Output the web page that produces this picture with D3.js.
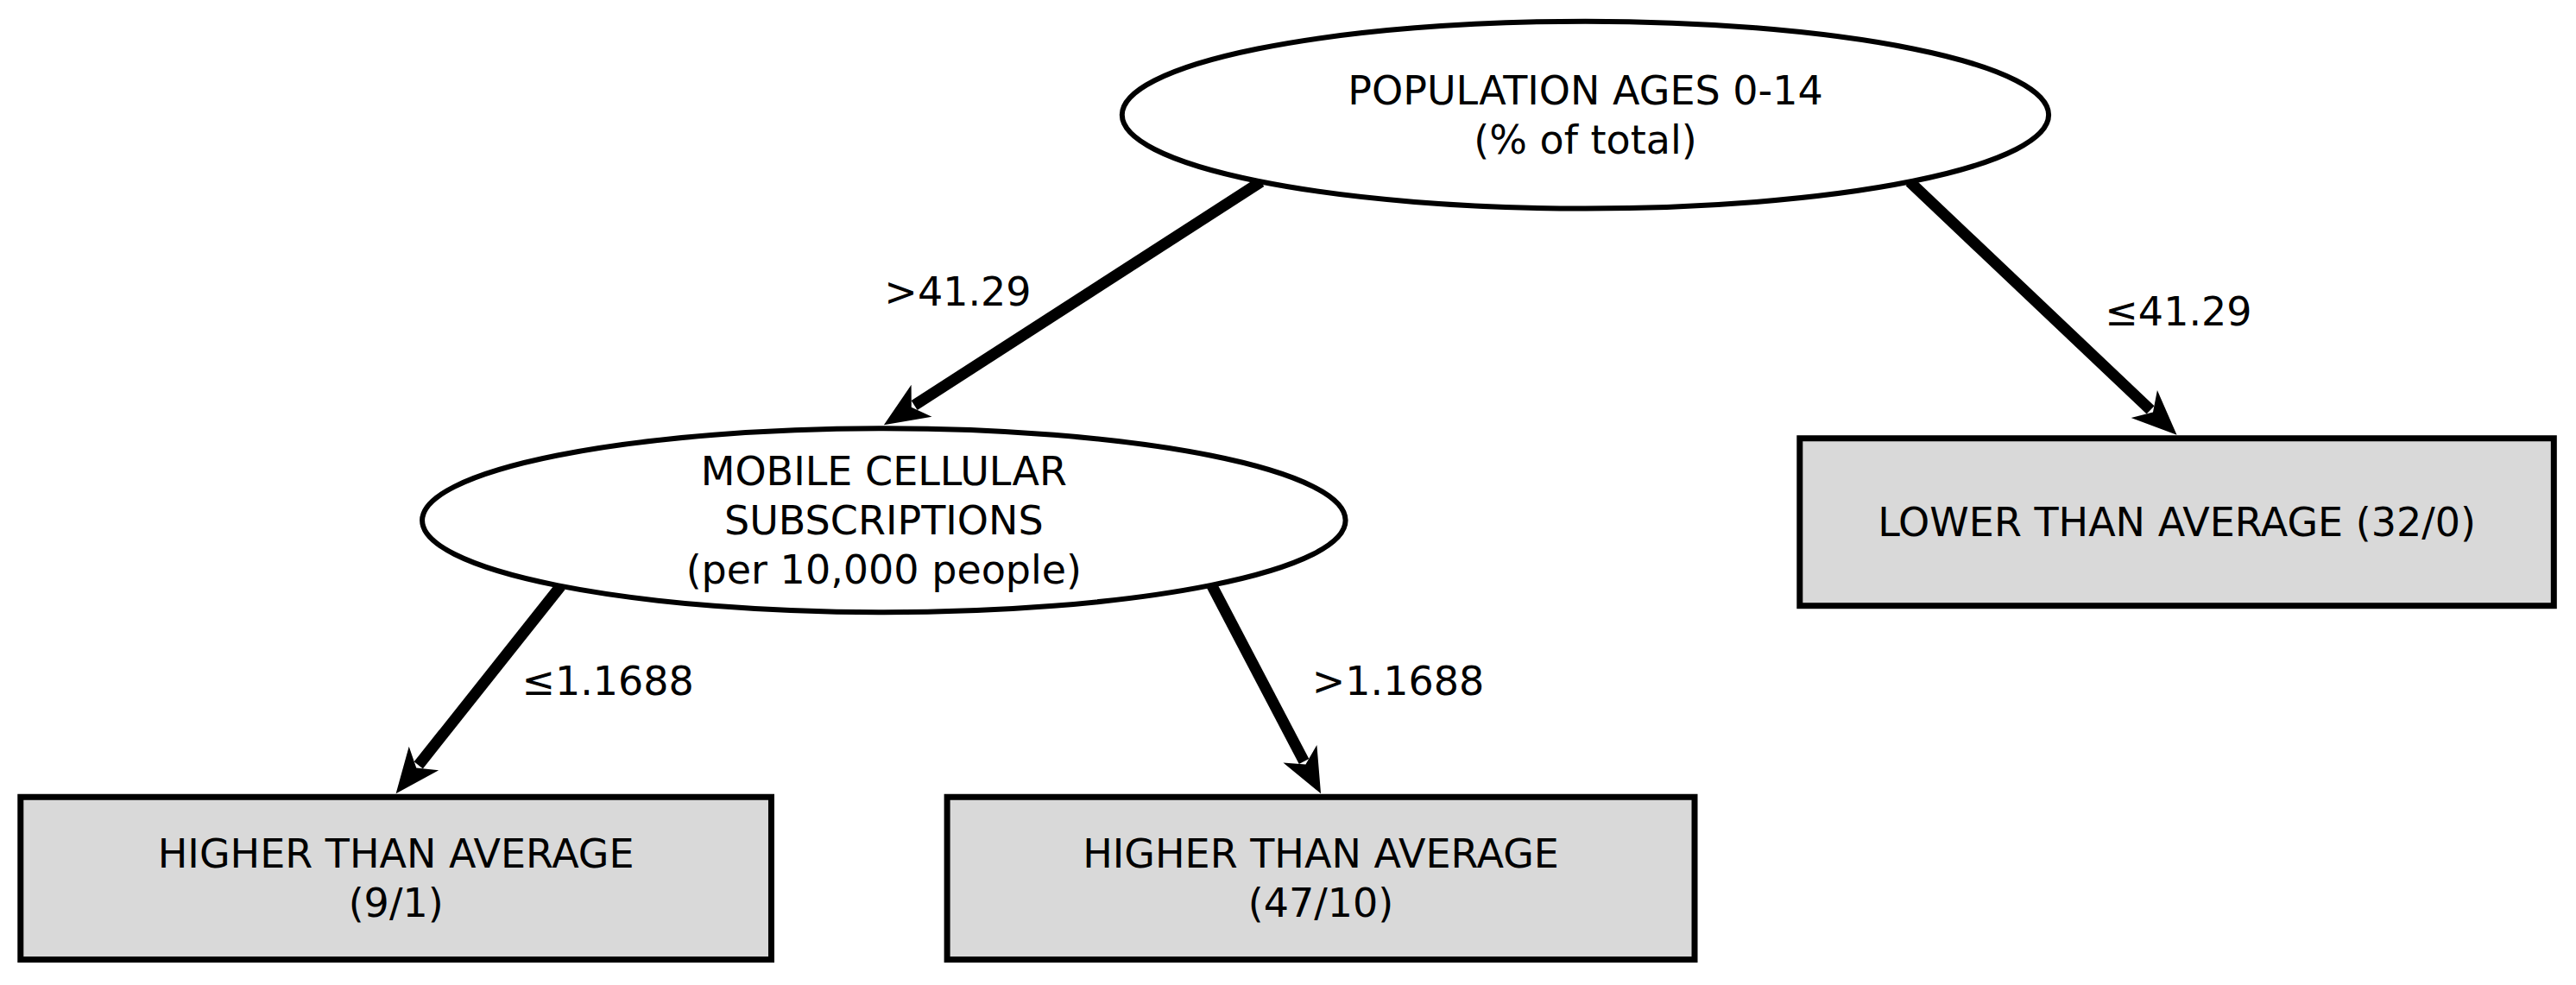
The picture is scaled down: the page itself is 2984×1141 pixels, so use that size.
<!DOCTYPE html>
<html>
<head>
<meta charset="utf-8">
<script src="https://cdn.jsdelivr.net/npm/d3@7"></script>
<style>
  body { margin: 0; background: #fff; }
  text { font-family: "DejaVu Sans", Verdana, sans-serif; font-size: 46px; fill: #000; }
</style>
</head>
<body>
<svg id="tree" width="2984" height="1141"></svg>
<script>
// layout units (0..1568 wide, 0..600 tall), mapped through scales below
var nodeIds = ["root", "mobile", "lower", "high1", "high2"]
var nodeShapes = ["ellipse", "ellipse", "box", "box", "box"]
var nodeX = [965, 538, 1325, 241, 804]
var nodeY = [70, 317, 318, 535, 535]
var nodeW = [564, 562, 459, 457, 455]
var nodeH = [114, 112, 102, 99, 99]
var nodeLines = [
  ["POPULATION AGES 0-14", "(% of total)"],
  ["MOBILE CELLULAR", "SUBSCRIPTIONS", "(per 10,000 people)"],
  ["LOWER THAN AVERAGE (32/0)"],
  ["HIGHER THAN AVERAGE", "(9/1)"],
  ["HIGHER THAN AVERAGE", "(47/10)"]
]

var edgeFrom = ["root", "root", "mobile", "mobile"]
var edgeTo = ["mobile", "lower", "high1", "high2"]
var edgeSide = [-0.7, 0.7, -0.7, 0.71]
var edgeLabels = [">41.29", "≤41.29", "≤1.1688", ">1.1688"]
var labelX = [583, 1326, 370, 851]
var labelY = [178, 190, 415, 415]

var x = d3.scaleLinear().domain([0, 1568]).range([0, 2984])
var y = d3.scaleLinear().domain([0, 600]).range([0, 1141])

var nodes = nodeIds.map(function(id, i) {
  return {id: id, shape: nodeShapes[i], x: nodeX[i], y: nodeY[i], w: nodeW[i], h: nodeH[i], lines: nodeLines[i]}
})
var byId = {}
nodes.forEach(function(n) { byId[n.id] = n })

var svg = d3.select("#tree")

// edges
var edges = edgeFrom.map(function(f, i) {
  var s = byId[f], t = byId[edgeTo[i]]
  var rx = x(s.w / 2) - x(0), ry = y(s.h / 2) - y(0)
  var sx = x(s.x) + edgeSide[i] * rx
  var sy = y(s.y) + ry * Math.sqrt(1 - edgeSide[i] * edgeSide[i])
  var tx = x(t.x)
  var ty = y(t.y) - (y(t.h / 2) - y(0)) - 4
  return {sx: sx, sy: sy, tx: tx, ty: ty, label: edgeLabels[i], lx: labelX[i], ly: labelY[i]}
})

var arrowLen = 52, arrowHalf = 22
var eg = svg.append("g")
eg.selectAll("line")
  .data(edges)
  .enter()
  .append("line")
  .attr("x1", d => d.sx)
  .attr("y1", d => d.sy)
  .attr("x2", function(d) {
    var a = Math.atan2(d.ty - d.sy, d.tx - d.sx)
    return d.tx - Math.cos(a) * (arrowLen - 10)
  })
  .attr("y2", function(d) {
    var a = Math.atan2(d.ty - d.sy, d.tx - d.sx)
    return d.ty - Math.sin(a) * (arrowLen - 10)
  })
  .attr("stroke", "#000")
  .attr("stroke-width", 13)

eg.selectAll("path")
  .data(edges)
  .enter()
  .append("path")
  .attr("d", "M0,0 L" + (-arrowLen) + "," + (-arrowHalf) + " L" + (-arrowLen + 14) + ",0 L" + (-arrowLen) + "," + arrowHalf + " Z")
  .attr("transform", function(d) {
    var a = Math.atan2(d.ty - d.sy, d.tx - d.sx) * 180 / Math.PI
    return "translate(" + d.tx + "," + d.ty + ") rotate(" + a + ")"
  })
  .attr("fill", "#000")

eg.selectAll("text")
  .data(edges)
  .enter()
  .append("text")
  .attr("x", d => x(d.lx))
  .attr("y", d => y(d.ly))
  .attr("text-anchor", "middle")
  .attr("dominant-baseline", "central")
  .text(d => d.label)

// nodes
var ng = svg.selectAll(".node")
  .data(nodes)
  .enter()
  .append("g")
  .attr("class", "node")
  .attr("transform", d => "translate(" + x(d.x) + "," + y(d.y) + ")")

ng.filter(d => d.shape == "ellipse")
  .append("ellipse")
  .attr("rx", d => x(d.w / 2) - x(0))
  .attr("ry", d => y(d.h / 2) - y(0))
  .attr("fill", "#fff")
  .attr("stroke", "#000")
  .attr("stroke-width", 6)

ng.filter(d => d.shape == "box")
  .append("rect")
  .attr("x", d => -(x(d.w / 2) - x(0)))
  .attr("y", d => -(y(d.h / 2) - y(0)))
  .attr("width", d => x(d.w) - x(0))
  .attr("height", d => y(d.h) - y(0))
  .attr("fill", "#d9d9d9")
  .attr("stroke", "#000")
  .attr("stroke-width", 7)

var lineH = 57
ng.each(function(d) {
  var g = d3.select(this)
  var n = d.lines.length
  g.selectAll("text.lbl")
    .data(d.lines)
    .enter()
    .append("text")
    .attr("class", "lbl")
    .attr("text-anchor", "middle")
    .attr("dominant-baseline", "central")
    .attr("y", (t, i) => (i - (n - 1) / 2) * lineH)
    .text(t => t)
})
</script>
</body>
</html>
